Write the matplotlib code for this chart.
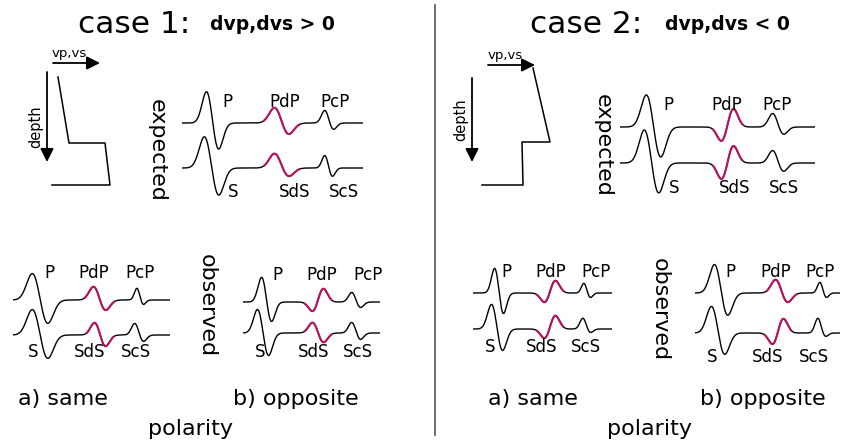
import numpy as np
import matplotlib.pyplot as plt

# ---- data -------------------------------------------------------------
top_phases = ['P', 'PdP', 'PcP']
bot_phases = ['S', 'SdS', 'ScS']
panels = ['c1_exp', 'c1_obs_a', 'c1_obs_b', 'c2_exp', 'c2_obs_a', 'c2_obs_b']

# each arrival: (x of first lobe, amp of first lobe, x of second lobe, amp of second lobe), amp>0 = up
direct_top = [(207, 33, 218, -28), (33, 28, 47, -25), (262, 26, 271, -21),
              (647, 34, 660, -32), (495, 26, 503, -22), (715, 30, 727, -24)]
direct_bot = [(205, 33, 218, -29), (33, 27, 47, -25), (258, 25, 268, -24),
              (645, 35, 658, -32), (492, 26, 502, -23), (712, 28, 724, -23)]
disc_top = [(275, 16, 288, -12), (94, 14, 105, -11), (313, -10, 323, 14),
            (722, -15, 733, 19), (545, -10, 555, 13), (776, 14, 787, -10)]
disc_bot = [(275, 15, 288, -9), (95, 13, 105, -12), (313, 11, 323, -10),
            (722, -17, 733, 18), (545, -10, 555, 14), (773, -12, 783, 15)]
core_top = [(325, 13, 333, -7), (137, 12, 143, -5), (352, 10, 360, -6),
            (773, 14, 783, -8), (584, 10, 590, -5), (820, 11, 826, -5)]
core_bot = [(325, 13, 332, -9), (135, 12, 143, -7), (352, 11, 360, -7),
            (773, 13, 783, -9), (583, 11, 590, -4), (818, 15, 825, -4)]

# velocity profiles (velocity, depth) in sketch units
prof1_v = [58, 69, 105, 110, 52]
prof1_z = [77, 143, 143, 185, 185]
prof2_v = [533, 550, 522, 523, 482]
prof2_z = [68, 142, 142, 185, 185]

# ---- layout -----------------------------------------------------------
trace_x0 = [182, 13, 243, 620, 473, 695]
trace_x1 = [363, 170, 380, 815, 612, 840]
base_top = [123, 300, 302, 127, 293, 293]
base_bot = [168, 335, 333, 163, 329, 333]
lab_top_x = [(227, 285, 335), (49, 94, 140), (277, 322, 368),
             (668, 727, 777), (506, 551, 596), (730, 776, 820)]
lab_top_y = [102, 273, 275, 105, 272, 272]
lab_bot_x = [(233, 295, 344), (33, 90, 136), (260, 314, 358),
             (674, 735, 784), (490, 542, 586), (712, 768, 814)]
lab_bot_y = [192, 352, 352, 188, 347, 357]

RED = '#b5135f'
WIDTH = 2.3   # lobe spacing / lobe sigma
plt.rcParams['font.family'] = 'DejaVu Sans'

fig = plt.figure(figsize=(8.52, 4.44), dpi=100)
ax = fig.add_axes([0, 0, 1, 1])
ax.set_xlim(0, 852)
ax.set_ylim(444, 0)
ax.axis('off')


def pulse(x, p):
    xa, aa, xb, ab = p
    s = abs(xb - xa) / WIDTH
    return aa * np.exp(-(x - xa)**2 / (2 * s * s)) + ab * np.exp(-(x - xb)**2 / (2 * s * s))


def trace(i, base, arrivals, disc):
    x = np.linspace(trace_x0[i], trace_x1[i], 800)
    y = base - sum(pulse(x, p) for p in arrivals)
    ax.plot(x, y, color='k', lw=1.0, solid_capstyle='butt')
    s = abs(disc[2] - disc[0]) / WIDTH
    m = (x > min(disc[0], disc[2]) - 1.9 * s) & (x < max(disc[0], disc[2]) + 1.9 * s)
    ax.plot(x[m], y[m], color=RED, lw=1.5)


for i in range(len(panels)):
    trace(i, base_top[i], [direct_top[i], disc_top[i], core_top[i]], disc_top[i])
    trace(i, base_bot[i], [direct_bot[i], disc_bot[i], core_bot[i]], disc_bot[i])
    for name, lx in zip(top_phases, lab_top_x[i]):
        ax.text(lx, lab_top_y[i], name, fontsize=12, ha='center', va='center')
    for name, lx in zip(bot_phases, lab_bot_x[i]):
        ax.text(lx, lab_bot_y[i], name, fontsize=12, ha='center', va='center')

# velocity-depth sketches
ax.plot(prof1_v, prof1_z, color='k', lw=1.1)
ax.plot(prof2_v, prof2_z, color='k', lw=1.1)
arr = dict(arrowstyle='-|>', mutation_scale=20, lw=1.3, color='k', shrinkA=0, shrinkB=0)
for xs, xe, y, tx in [(53, 100, 63, 52), (488, 535, 65, 488)]:
    ax.annotate('', xy=(xe, y), xytext=(xs, y), arrowprops=arr)
    ax.text(tx, y - 3, 'vp,vs', fontsize=9.5, ha='left', va='bottom')
for x, ys, ye, tx, ty in [(47, 72, 162, 36, 127), (472, 78, 162, 461, 120)]:
    ax.annotate('', xy=(x, ye), xytext=(x, ys), arrowprops=arr)
    ax.text(tx, ty, 'depth', fontsize=10.5, rotation=90, ha='center', va='center')

# side labels
ax.text(157, 150, 'expected', fontsize=16, rotation=-90, ha='center', va='center')
ax.text(603, 145, 'expected', fontsize=16, rotation=-90, ha='center', va='center')
ax.text(207, 306, 'observed', fontsize=16, rotation=-90, ha='center', va='center')
ax.text(660, 310, 'observed', fontsize=16, rotation=-90, ha='center', va='center')

# titles
ax.text(78, 33, 'case 1:', fontsize=22.5, ha='left', va='baseline')
ax.text(210, 30, 'dvp,dvs > 0', fontsize=13.5, fontweight='bold', ha='left', va='baseline')
ax.text(530, 33, 'case 2:', fontsize=22.5, ha='left', va='baseline')
ax.text(665, 30, 'dvp,dvs < 0', fontsize=13.5, fontweight='bold', ha='left', va='baseline')

# bottom labels
for dx in [0, 470]:
    ax.text(18 + dx, 405, 'a) same', fontsize=16, ha='left', va='baseline')
for x in [233, 700]:
    ax.text(x, 405, 'b) opposite', fontsize=16, ha='left', va='baseline')
for x in [148, 607]:
    ax.text(x, 435, 'polarity', fontsize=16, ha='left', va='baseline')

ax.plot([435, 435], [5, 435], color='#555555', lw=1.2)

fig.savefig('out.png', dpi=100)
